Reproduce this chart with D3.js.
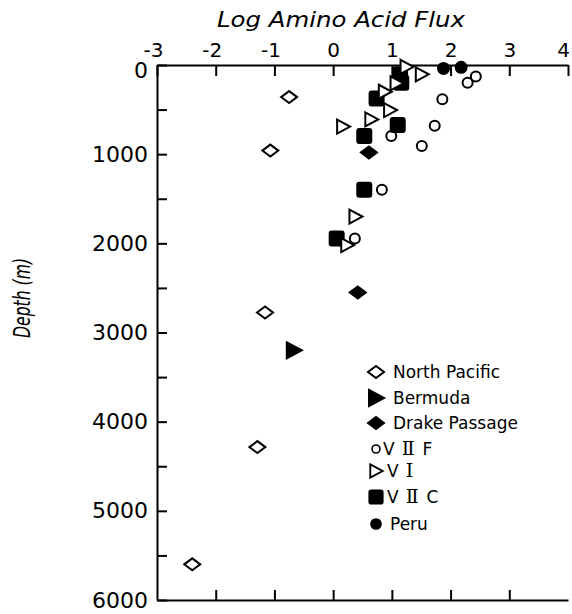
<!DOCTYPE html>
<html>
<head>
<meta charset="utf-8">
<script src="https://cdn.jsdelivr.net/npm/d3@7"></script>
<style>
  body { margin: 0; background: #fff; }
  svg text { font-family: "DejaVu Sans", sans-serif; fill: #000; }
</style>
</head>
<body>
<div id="chart"></div>
<script>
// values: [log amino acid flux, depth (m)]
var northPacific = [[-0.75, 360], [-1.07, 960], [-1.16, 2775], [-1.29, 4285], [-2.40, 5600]];
var bermuda = [[-0.67, 3200]];
var drakePassage = [[0.61, 980], [0.42, 2550]];
var v2f = [[2.43, 130], [2.29, 200], [1.86, 385], [1.73, 680], [0.99, 796], [1.51, 908], [0.83, 1400], [0.37, 1945]];
var v1 = [[1.25, 20], [1.51, 105], [1.08, 205], [0.88, 300], [0.97, 505], [0.65, 610], [0.17, 690], [0.38, 1700], [0.24, 2020]];
var v2c = [[1.14, 105], [1.16, 200], [0.74, 375], [1.10, 673], [0.53, 796], [0.53, 1400], [0.06, 1945]];
var peru = [[1.88, 38], [2.18, 26]];

var xTicks = [-3, -2, -1, 0, 1, 2, 3, 4];
var yTicks = [0, 500, 1000, 1500, 2000, 2500, 3000, 3500, 4000, 4500, 5000, 5500, 6000];

var w = 572, h = 614;

var svg = d3.select("#chart").append("svg")
  .attr("width", w)
  .attr("height", h);

var x = d3.scaleLinear().domain([-3, 4]).range([157, 568]);
var y = d3.scaleLinear().domain([0, 6000]).range([65, 600]);

// shapes
var shapes = {
  openDiamond: { d: "M-8,0L0,-6L8,0L0,6Z", fill: "#fff" },
  fillDiamond: { d: "M-8,0L0,-6L8,0L0,6Z", fill: "#000" },
  openTri: { d: "M-6,-7L7,0L-6,7Z", fill: "#fff" },
  fillTri: { d: "M-7,-8L8,0L-7,8Z", fill: "#000" },
  openCircle: { d: "M5,0A5,5 0 1,1 -5,0A5,5 0 1,1 5,0Z", fill: "none" },
  square: { d: "M-7,-5Q-7,-7 -5,-7L5,-7Q7,-7 7,-5L7,5Q7,7 5,7L-5,7Q-7,7 -7,5Z", fill: "#000" },
  dot: { d: "M5.5,0A5.5,5.5 0 1,1 -5.5,0A5.5,5.5 0 1,1 5.5,0Z", fill: "#000" }
};

var series = [
  { name: "VIIC", data: v2c, shape: "square" },
  { name: "Peru", data: peru, shape: "dot" },
  { name: "North Pacific", data: northPacific, shape: "openDiamond" },
  { name: "Bermuda", data: bermuda, shape: "fillTri" },
  { name: "Drake Passage", data: drakePassage, shape: "fillDiamond" },
  { name: "VI", data: v1, shape: "openTri" },
  { name: "VIIF", data: v2f, shape: "openCircle" }
];

// axes
var topAxis = svg.append("g")
  .attr("transform", "translate(0," + y(0) + ")")
  .call(d3.axisTop(x).tickValues(xTicks).tickSizeInner(-11).tickSizeOuter(0).tickPadding(8)
    .tickFormat(function(d) { return d < 0 ? "-" + Math.abs(d) : d; }));
topAxis.selectAll("text").attr("font-size", "20px")
  .attr("dx", function(d) { return d < 0 ? "-0.2em" : (d === 4 ? "-0.25em" : 0); });

var bottomAxis = svg.append("g")
  .attr("transform", "translate(0," + y(6000) + ")")
  .call(d3.axisBottom(x).tickValues(xTicks.slice(1, 7)).tickSizeInner(-10).tickSizeOuter(0).tickFormat(""));

var leftAxis = svg.append("g")
  .attr("transform", "translate(" + x(-3) + ",0)")
  .call(d3.axisLeft(y).tickValues(yTicks).tickSizeInner(-10).tickSizeOuter(0).tickPadding(9)
    .tickFormat(function(d) { return d % 1000 === 0 ? d : ""; }));
leftAxis.selectAll("text").attr("font-size", "22px");
leftAxis.selectAll(".tick").filter(function(d) { return d === 0; }).select("text").attr("dy", "0.55em");

svg.selectAll(".domain, .tick line").attr("stroke", "#000").attr("stroke-width", 2);
svg.selectAll(".tick text").attr("fill", "#000").style("font-family", "DejaVu Sans");

// titles
svg.append("text")
  .attr("x", 341)
  .attr("y", 27)
  .attr("text-anchor", "middle")
  .attr("font-size", "22px")
  .attr("font-style", "italic")
  .attr("textLength", 248)
  .attr("lengthAdjust", "spacingAndGlyphs")
  .text("Log  Amino  Acid  Flux");

svg.append("text")
  .attr("transform", "translate(30,298) rotate(-90)")
  .attr("text-anchor", "middle")
  .attr("font-size", "23px")
  .attr("font-style", "italic")
  .attr("textLength", 80)
  .attr("lengthAdjust", "spacingAndGlyphs")
  .text("Depth (m)");

// points
series.forEach(function(s) {
  var sh = shapes[s.shape];
  svg.append("g").selectAll("path")
    .data(s.data)
    .enter()
    .append("path")
    .attr("d", sh.d)
    .attr("transform", function(d) { return "translate(" + x(d[0]) + "," + y(d[1]) + ")"; })
    .attr("fill", sh.fill)
    .attr("stroke", "#000")
    .attr("stroke-width", 2);
});

// legend
var legend = [
  { label: "North Pacific", shape: "openDiamond", y: 372, tx: 393 },
  { label: "Bermuda", shape: "fillTri", y: 398, tx: 393 },
  { label: "Drake Passage", shape: "fillDiamond", y: 423, tx: 393 },
  { label: "V|\u2161|F", shape: "openCircle", y: 449, tx: 383, scale: 0.8 },
  { label: "V|\u2160", shape: "openTri", y: 471, tx: 387, scale: 0.95 },
  { label: "V|\u2161|C", shape: "square", y: 497, tx: 387, scale: 0.95 },
  { label: "Peru", shape: "dot", y: 524, tx: 390, scale: 0.9 }
];

var lg = svg.append("g").selectAll("g")
  .data(legend)
  .enter()
  .append("g");

lg.append("path")
  .attr("d", function(d) { return shapes[d.shape].d; })
  .attr("transform", function(d) { return "translate(376," + d.y + ") scale(" + (d.scale || 1) + ")"; })
  .attr("fill", function(d) { return shapes[d.shape].fill; })
  .attr("stroke", "#000")
  .attr("stroke-width", 2);

lg.each(function(d) {
  var t = d3.select(this).append("text")
    .attr("x", d.tx)
    .attr("y", d.y)
    .attr("dy", "0.36em")
    .attr("font-size", "17px");
  d.label.split("|").forEach(function(part, i) {
    var roman = part === "\u2160" || part === "\u2161";
    t.append("tspan")
      .attr("dx", i === 0 ? 0 : (roman ? 7 : 8))
      .style("font-family", roman ? "DejaVu Serif" : null)
      .attr("font-size", roman ? "19px" : null)
      .text(part);
  });
});
</script>
</body>
</html>
